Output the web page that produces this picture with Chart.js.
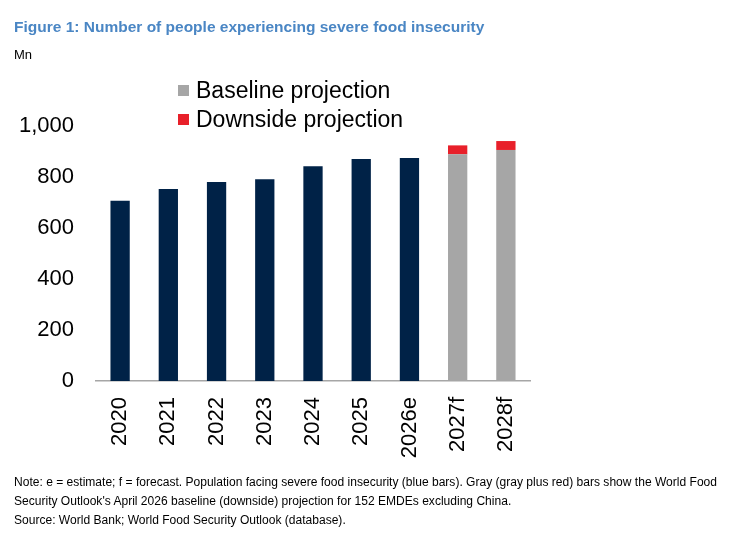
<!DOCTYPE html>
<html>
<head>
<meta charset="utf-8">
<script src="https://cdn.jsdelivr.net/npm/chart.js@4.4.1/dist/chart.umd.min.js"></script>
<style>
  html, body { margin: 0; padding: 0; background: #fff; }
  body { width: 729px; height: 534px; position: relative; overflow: hidden; font-family: "Liberation Sans", Arial, sans-serif; }
  #wrap { position: absolute; left: 0; top: 0; width: 729px; height: 534px; }
  .title { position: absolute; left: 14px; top: 18px; font-size: 15.5px; font-weight: bold; color: #4a86c4; white-space: nowrap; }
  .unit { position: absolute; left: 14px; top: 47px; font-size: 13px; color: #000; }
  .legend { position: absolute; left: 178px; font-size: 23px; color: #000; white-space: nowrap; line-height: 26px; }
  .legend span.sw { display: inline-block; width: 11px; height: 11px; margin-right: 7px; vertical-align: 2px; }
  .note { position: absolute; left: 14px; top: 473px; font-size: 12px; line-height: 19px; color: #000; white-space: nowrap; transform-origin: 0 0; }
</style>
</head>
<body>
<div id="wrap"><canvas id="c" width="729" height="534"></canvas></div>
<div class="title">Figure 1: Number of people experiencing severe food insecurity</div>
<div class="unit">Mn</div>
<div class="legend" style="top:77px;"><span class="sw" style="background:#a6a6a6"></span>Baseline projection</div>
<div class="legend" style="top:106px;"><span class="sw" style="background:#e8202a"></span>Downside projection</div>
<div class="note" id="note">Note: e = estimate; f = forecast. Population facing severe food insecurity (blue bars). Gray (gray plus red) bars show the World Food<br>Security Outlook's April 2026 baseline (downside) projection for 152 EMDEs excluding China.<br>Source: World Bank; World Food Security Outlook (database).</div>
<script>
const categories = ["2020", "2021", "2022", "2023", "2024", "2025", "2026e", "2027f", "2028f"];
const observedValues = [707, 753, 780, 791, 842, 871, 875, null, null];
const baselineValues = [null, null, null, null, null, null, null, 889, 906];
const downsideExtra = [null, null, null, null, null, null, null, 35, 35];
const yTicks = [0, 200, 400, 600, 800, 1000];

// Fit note width to reference (~703px for first line)
(function(){
  const n = document.getElementById('note');
  const w = n.getBoundingClientRect().width;
  const target = 703;
  if (w > 0) n.style.transform = 'scaleX(' + (target / w) + ')';
})();

new Chart(document.getElementById('c'), {
  type: 'bar',
  data: {
    labels: categories,
    datasets: [
      { label: 'Severe food insecurity', data: observedValues, backgroundColor: '#002247', stack: 's' },
      { label: 'Baseline projection', data: baselineValues, backgroundColor: '#a6a6a6', stack: 's' },
      { label: 'Downside projection', data: downsideExtra, backgroundColor: '#e8202a', stack: 's' }
    ]
  },
  options: {
    responsive: false,
    animation: false,
    layout: { padding: { left: 0, right: 199, top: 126, bottom: 0 } },
    plugins: { legend: { display: false }, tooltip: { enabled: false } },
    datasets: { bar: { barPercentage: 0.4, categoryPercentage: 1.0 } },
    scales: {
      x: {
        stacked: true,
        grid: { display: false, drawTicks: false },
        border: { display: true, color: '#a6a6a6', width: 1.5 },
        ticks: { color: '#000', font: { family: 'Liberation Sans', size: 22 }, minRotation: 90, maxRotation: 90, padding: 16, autoSkip: false },
        afterFit: (s) => { s.height = 153; }
      },
      y: {
        stacked: true,
        min: 0, max: 1000,
        grid: { display: false, drawTicks: false },
        border: { display: false },
        afterBuildTicks: (s) => { s.ticks = yTicks.map(v => ({ value: v })); },
        ticks: {
          color: '#000', font: { family: 'Liberation Sans', size: 22 }, padding: 22,
          callback: (v) => v.toLocaleString('en-US')
        },
        afterFit: (s) => { s.width = 96; }
      }
    }
  }
});
</script>
</body>
</html>
